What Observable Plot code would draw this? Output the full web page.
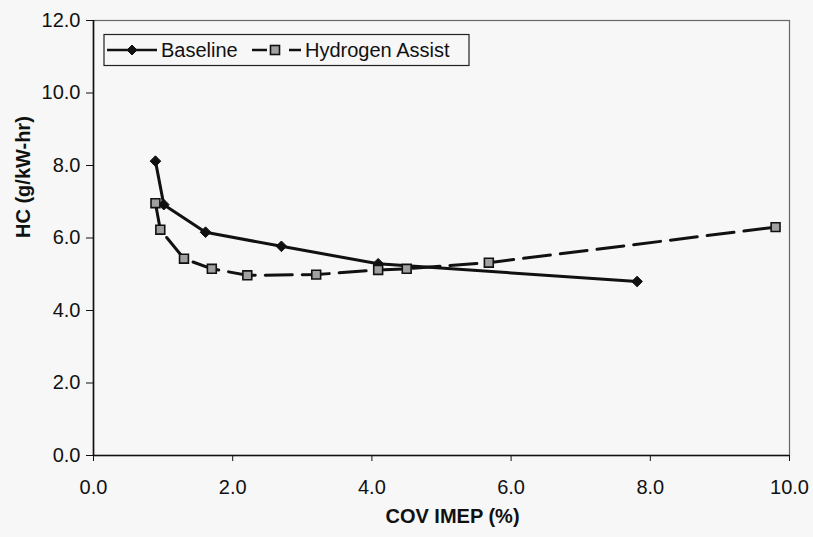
<!DOCTYPE html>
<html>
<head>
<meta charset="utf-8">
<script src="https://cdn.jsdelivr.net/npm/d3@7"></script>
<script src="https://cdn.jsdelivr.net/npm/@observablehq/plot@0.6"></script>
<style>
  html, body { margin: 0; padding: 0; background: #f7f7f7; }
  #wrap { position: relative; width: 813px; height: 537px; }
  #legend { position: absolute; left: 0; top: 0; pointer-events: none; }
</style>
</head>
<body>
<div id="wrap"></div>
<script>
// ---- data ----
const baselineX = [0.89, 1.01, 1.61, 2.70, 4.09, 7.81];
const baselineY = [8.12, 6.92, 6.16, 5.77, 5.29, 4.80];
const hydrogenX = [0.89, 0.96, 1.30, 1.70, 2.21, 3.20, 4.09, 4.50, 5.68, 9.80];
const hydrogenY = [6.96, 6.23, 5.43, 5.15, 4.97, 4.99, 5.12, 5.15, 5.32, 6.30];
const xTicks = [0, 2, 4, 6, 8, 10];
const xTickLabels = ["0.0", "2.0", "4.0", "6.0", "8.0", "10.0"];
const yTicks = [0, 2, 4, 6, 8, 10, 12];
const yTickLabels = ["0.0", "2.0", "4.0", "6.0", "8.0", "10.0", "12.0"];
const seriesNames = ["Baseline", "Hydrogen Assist"];
const xTitle = "COV IMEP (%)";
const yTitle = "HC (g/kW-hr)";

const baseline = baselineX.map((x, i) => ({x, y: baselineY[i]}));
const hydrogen = hydrogenX.map((x, i) => ({x, y: hydrogenY[i]}));

const ink = "#111";
const chart = Plot.plot({
  width: 813,
  height: 537,
  marginLeft: 93,
  marginRight: 24,
  marginTop: 20,
  marginBottom: 82,
  x: {domain: [0, 10]},
  y: {domain: [0, 12]},
  style: {background: "transparent", fontFamily: "'Liberation Sans', Arial, sans-serif", fontSize: "20px", color: ink},
  marks: [
    Plot.frame({stroke: "#666", strokeWidth: 1.2}),
    Plot.axisY({ticks: yTicks, tickFormat: (d, i) => yTickLabels[i], tickSize: 7, tickPadding: 6, label: null, stroke: ink}),
    Plot.axisX({ticks: xTicks, tickFormat: (d, i) => xTickLabels[i], tickSize: 6, tickPadding: 18, label: null, stroke: ink}),
    Plot.ruleX([0], {stroke: ink, strokeWidth: 1.6}),
    Plot.ruleY([0], {stroke: ink, strokeWidth: 1.6}),
    Plot.line(hydrogen, {x: "x", y: "y", stroke: ink, strokeWidth: 3, strokeDasharray: "27,10"}),
    Plot.line(baseline, {x: "x", y: "y", stroke: ink, strokeWidth: 3}),
    Plot.dot(baseline, {x: "x", y: "y", symbol: "diamond2", r: 4.8, fill: ink, stroke: ink, strokeWidth: 1}),
    Plot.dot(hydrogen, {x: "x", y: "y", symbol: "square", r: 5, fill: "#a0a0a0", stroke: ink, strokeWidth: 1.6}),
    Plot.text([xTitle], {frameAnchor: "bottom", dy: 67, dx: 11, fontWeight: "bold", fontSize: 20, fill: ink}),
    Plot.text([yTitle], {frameAnchor: "left", dx: -70, rotate: -90, fontWeight: "bold", fontSize: 20, fill: ink})
  ]
});
const wrap = document.getElementById("wrap");
wrap.appendChild(chart);

// ---- legend overlay ----
const ns = "http://www.w3.org/2000/svg";
const lg = document.createElementNS(ns, "svg");
lg.setAttribute("id", "legend");
lg.setAttribute("width", 813);
lg.setAttribute("height", 100);
lg.innerHTML = `
  <rect x="104" y="34.5" width="365" height="31" fill="#f7f7f7" stroke="#222" stroke-width="1.2"/>
  <line x1="107" y1="50" x2="157" y2="50" stroke="${ink}" stroke-width="2.5"/>
  <path d="M132,45 L137,50 L132,55 L127,50 Z" fill="${ink}" stroke="${ink}" stroke-width="1"/>
  <text x="161" y="57" font-family="'Liberation Sans', Arial, sans-serif" font-size="20" fill="${ink}">${seriesNames[0]}</text>
  <line x1="252" y1="50" x2="267" y2="50" stroke="${ink}" stroke-width="2.5"/>
  <line x1="289" y1="50" x2="301" y2="50" stroke="${ink}" stroke-width="2.5"/>
  <rect x="270.5" y="45.5" width="9" height="9" fill="#a0a0a0" stroke="${ink}" stroke-width="1.6"/>
  <text x="305" y="57" font-family="'Liberation Sans', Arial, sans-serif" font-size="20" fill="${ink}">${seriesNames[1]}</text>
`;
wrap.appendChild(lg);
</script>
</body>
</html>
